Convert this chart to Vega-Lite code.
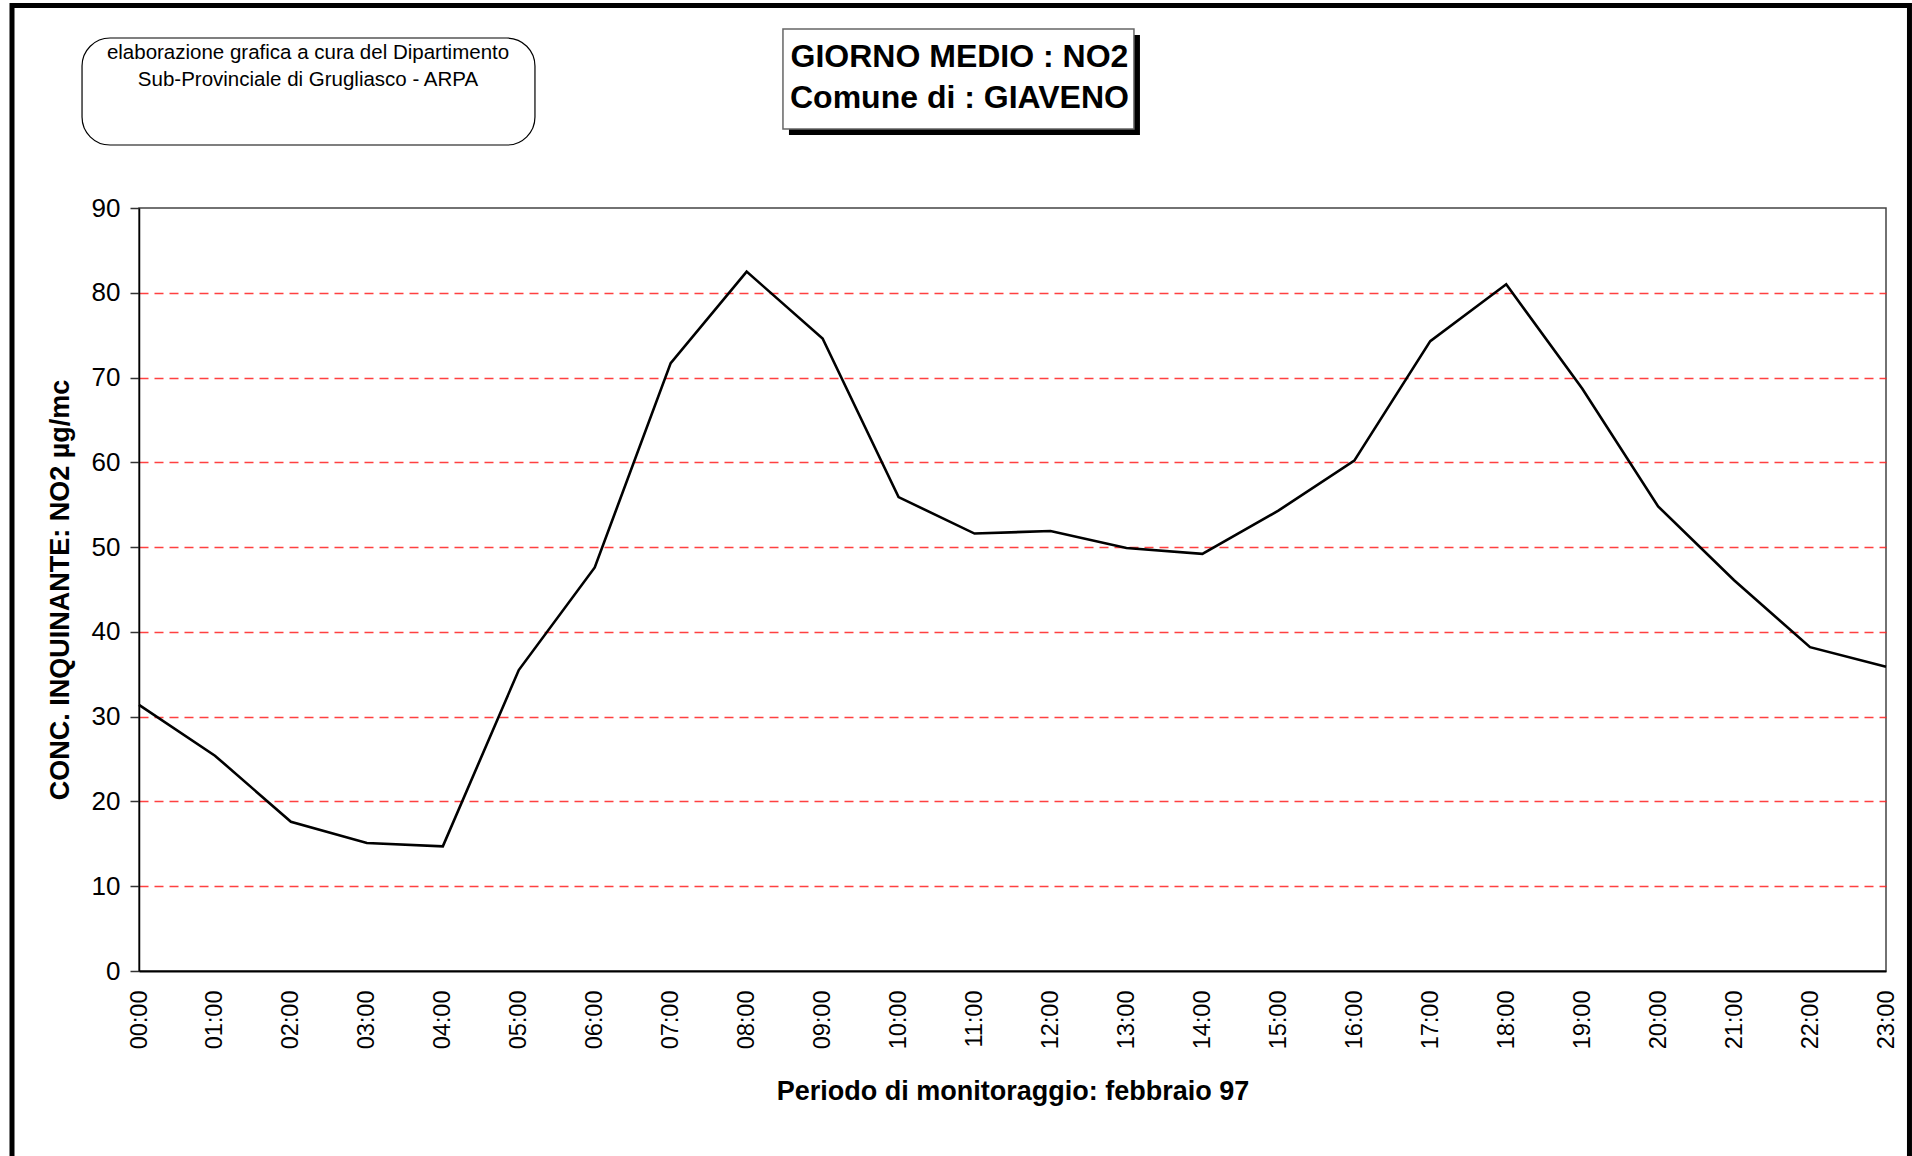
{
  "$schema": "https://vega.github.io/schema/vega-lite/v6.json",
  "width": 1747,
  "height": 763,
  "autosize": {"type": "none"},
  "padding": {"left": 139, "top": 208, "right": 26, "bottom": 185},
  "background": "white",
  "config": {
    "font": "Liberation Sans",
    "view": {"stroke": "#444444", "strokeWidth": 1.5}
  },
  "datasets": {
    "giorno": [
      {"ora": "00:00", "h": 0, "no2": 31.4},
      {"ora": "01:00", "h": 1, "no2": 25.4},
      {"ora": "02:00", "h": 2, "no2": 17.6},
      {"ora": "03:00", "h": 3, "no2": 15.1},
      {"ora": "04:00", "h": 4, "no2": 14.7},
      {"ora": "05:00", "h": 5, "no2": 35.5},
      {"ora": "06:00", "h": 6, "no2": 47.6},
      {"ora": "07:00", "h": 7, "no2": 71.7},
      {"ora": "08:00", "h": 8, "no2": 82.5},
      {"ora": "09:00", "h": 9, "no2": 74.6},
      {"ora": "10:00", "h": 10, "no2": 55.9},
      {"ora": "11:00", "h": 11, "no2": 51.6},
      {"ora": "12:00", "h": 12, "no2": 51.9},
      {"ora": "13:00", "h": 13, "no2": 49.9},
      {"ora": "14:00", "h": 14, "no2": 49.2},
      {"ora": "15:00", "h": 15, "no2": 54.3},
      {"ora": "16:00", "h": 16, "no2": 60.2},
      {"ora": "17:00", "h": 17, "no2": 74.3},
      {"ora": "18:00", "h": 18, "no2": 81.0},
      {"ora": "19:00", "h": 19, "no2": 68.7},
      {"ora": "20:00", "h": 20, "no2": 54.8},
      {"ora": "21:00", "h": 21, "no2": 46.1},
      {"ora": "22:00", "h": 22, "no2": 38.2},
      {"ora": "23:00", "h": 23, "no2": 35.9}
    ],
    "one": [{}]
  },
  "layer": [
    {
      "data": {"name": "one"},
      "mark": {"type": "rect", "fill": null, "stroke": "black", "strokeWidth": 5},
      "encoding": {
        "x": {"datum": -1.672, "type": "quantitative"},
        "x2": {"datum": 23.309},
        "y": {"datum": 113.886, "type": "quantitative"},
        "y2": {"datum": -27}
      }
    },
    {
      "data": {"name": "one"},
      "mark": {"type": "rect", "fill": "white", "stroke": "black", "strokeWidth": 1.2, "cornerRadius": 28},
      "encoding": {
        "x": {"datum": -0.75, "type": "quantitative"},
        "x2": {"datum": 5.213},
        "y": {"datum": 110.05, "type": "quantitative"},
        "y2": {"datum": 97.43}
      }
    },
    {
      "data": {"name": "one"},
      "mark": {"type": "text", "text": "elaborazione grafica a cura del Dipartimento\nSub-Provinciale di Grugliasco - ARPA", "lineBreak": "\n", "lineHeight": 27, "fontSize": 20.5, "align": "center", "baseline": "middle", "color": "black"},
      "encoding": {
        "x": {"datum": 2.225, "type": "quantitative"},
        "y": {"datum": 108.28, "type": "quantitative"}
      }
    },
    {
      "data": {"name": "one"},
      "mark": {"type": "rect", "fill": "black", "stroke": null},
      "encoding": {
        "x": {"datum": 8.557, "type": "quantitative"},
        "x2": {"datum": 13.178},
        "y": {"datum": 110.406, "type": "quantitative"},
        "y2": {"datum": 98.611}
      }
    },
    {
      "data": {"name": "one"},
      "mark": {"type": "rect", "fill": "white", "stroke": "#666666", "strokeWidth": 1.5},
      "encoding": {
        "x": {"datum": 8.478, "type": "quantitative"},
        "x2": {"datum": 13.099},
        "y": {"datum": 111.114, "type": "quantitative"},
        "y2": {"datum": 99.318}
      }
    },
    {
      "data": {"name": "one"},
      "mark": {"type": "text", "text": "GIORNO MEDIO : NO2\nComune di : GIAVENO", "lineBreak": "\n", "lineHeight": 41, "fontSize": 32, "fontWeight": "bold", "align": "center", "baseline": "middle", "color": "black"},
      "encoding": {
        "x": {"datum": 10.802, "type": "quantitative"},
        "y": {"datum": 107.85, "type": "quantitative"}
      }
    },
    {
      "data": {"name": "giorno"},
      "mark": {"type": "line", "color": "black", "strokeWidth": 2.6, "strokeJoin": "miter"},
      "encoding": {
        "x": {
          "field": "h",
          "type": "quantitative",
          "scale": {"domain": [0, 23], "nice": false, "zero": false},
          "axis": {
            "values": [0,1,2,3,4,5,6,7,8,9,10,11,12,13,14,15,16,17,18,19,20,21,22,23],
            "labelExpr": "(datum.value < 10 ? '0' : '') + datum.value + ':00'",
            "labelAngle": -90,
            "labelFontSize": 23.5,
            "labelColor": "black",
            "labelPadding": 19,
            "ticks": false,
            "grid": false,
            "domainColor": "black",
            "domainWidth": 2,
            "title": "Periodo di monitoraggio: febbraio 97",
            "titleFontSize": 27,
            "titleFontWeight": "bold",
            "titleColor": "black",
            "titleX": 873.5,
            "titleY": 120,
            "titleBaseline": "middle",
            "titleAlign": "center"
          }
        },
        "y": {
          "field": "no2",
          "type": "quantitative",
          "scale": {"domain": [0, 90], "nice": false, "zero": true},
          "axis": {
            "values": [0,10,20,30,40,50,60,70,80,90],
            "labelFontSize": 26,
            "labelColor": "black",
            "labelPadding": 10,
            "tickSize": 9,
            "tickColor": "#333333",
            "tickWidth": 1.5,
            "domainColor": "black",
            "domainWidth": 1.5,
            "grid": true,
            "gridColor": "#ff2020",
            "gridOpacity": {"condition": {"test": "datum.value === 0 || datum.value === 90", "value": 0}, "value": 0.85},
            "gridDash": [9, 6],
            "gridWidth": 1.3,
            "title": "CONC. INQUINANTE: NO2 µg/mc",
            "titleFontSize": 27,
            "titleFontWeight": "bold",
            "titleColor": "black",
            "titleX": -79,
            "titleY": 381.5,
            "titleAngle": -90,
            "titleBaseline": "middle",
            "titleAlign": "center"
          }
        }
      }
    }
  ]
}
